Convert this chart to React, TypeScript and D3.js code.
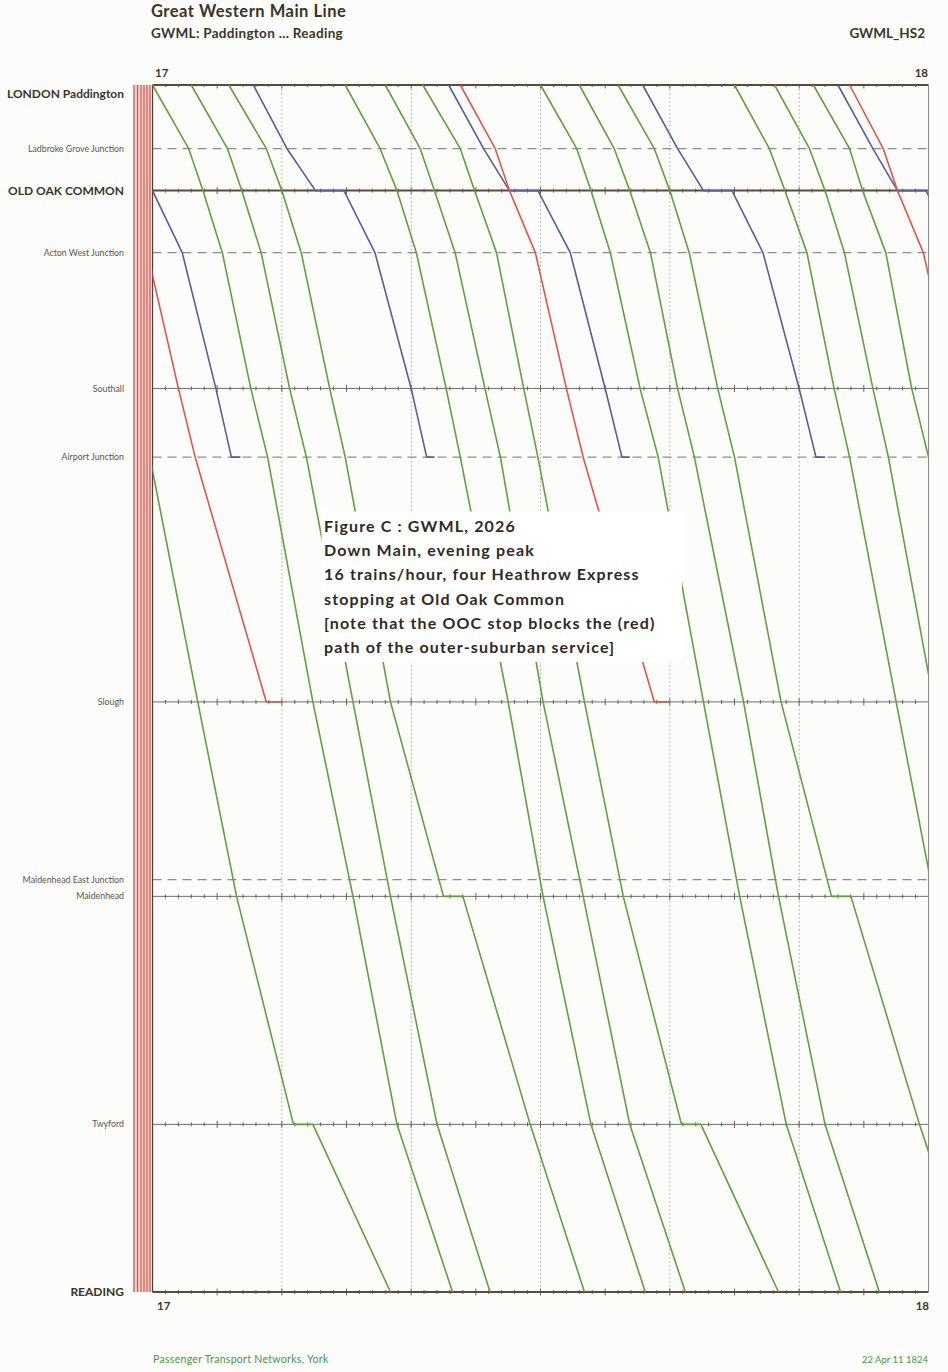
import React from 'react';
import * as d3 from 'd3';

// stations, top to bottom (distance in miles from Paddington)
const stationCodes = ["PAD", "LGJ", "OOC", "AWJ", "STL", "APJ", "SLO", "MEJ", "MAI", "TWY", "RDG"];
const stationLabels = [
  "LONDON Paddington", "Ladbroke Grove Junction", "OLD OAK COMMON", "Acton West Junction",
  "Southall", "Airport Junction", "Slough", "Maidenhead East Junction", "Maidenhead", "Twyford", "READING",
];
const stationMiles = [0, 1.9, 3.15, 5.0, 9.05, 11.1, 18.4, 23.7, 24.2, 31.0, 36.0];
const stationKinds = ["major", "junction", "major", "junction", "station", "junction", "station", "junction", "station", "station", "major"];

// calling patterns (a repeated code = arrive / depart)
const routeFast = ["PAD", "LGJ", "OOC", "AWJ", "STL", "APJ", "SLO", "MAI", "TWY", "RDG"];
const routeMaiStop = ["PAD", "LGJ", "OOC", "AWJ", "STL", "APJ", "SLO", "MAI", "MAI", "TWY", "RDG"];
const routeTwyStop = ["PAD", "LGJ", "OOC", "AWJ", "STL", "APJ", "SLO", "MAI", "TWY", "TWY", "RDG"];
const routeHex = ["PAD", "LGJ", "OOC", "OOC", "AWJ", "STL", "APJ", "APJ"];
const routeOuter = ["PAD", "LGJ", "OOC", "AWJ", "STL", "APJ", "SLO", "SLO"];

// minutes after 17:00
const g1 = [0.0, 2.8, 3.9, 5.4, 7.6, 8.9, 12.4, 15.5, 18.9, 23.2];
const g2 = [3.0, 5.8, 6.9, 8.4, 10.6, 11.9, 15.5, 18.4, 22.0, 26.1];
const g3 = [5.9, 8.8, 10.0, 11.5, 13.7, 14.9, 18.4, 22.5, 24.0, 29.2, 33.4];
const g4 = [14.9, 17.6, 18.9, 20.4, 22.7, 23.8, 27.5, 30.2, 33.9, 38.1];
const g5 = [18.0, 20.7, 21.8, 23.4, 25.7, 26.9, 30.2, 33.3, 36.9, 41.2];
const g6 = [20.9, 23.8, 24.9, 26.6, 28.7, 29.8, 33.4, 36.4, 40.9, 42.4, 48.4];
const b1 = [7.8, 10.4, 12.6, 14.8, 17.2, 20.0, 21.2, 21.8];
const b2 = [22.9, 25.6, 27.6, 29.8, 32.3, 35.0, 36.3, 36.9];
const r1 = [23.8, 26.5, 27.6, 29.6, 32.0, 33.3, 38.8, 40.0];
const g7 = [30.0, 32.8, 33.9, 35.4, 37.7, 39.1, 42.6, 45.4, 49.0, 53.2];
const g8 = [33.0, 35.7, 36.9, 38.5, 40.6, 41.9, 45.7, 48.4, 52.0, 56.2];
const g9 = [36.0, 38.8, 40.0, 41.5, 43.7, 45.0, 48.6, 52.5, 54.0, 59.3, 63.6];
const b3 = [37.9, 40.6, 42.6, 44.8, 47.2, 50.0, 51.3, 52.0];
const g10 = [45.0, 47.7, 48.9, 50.6, 52.7, 53.9, 57.5, 60.4, 64.1, 68.3];
const g11 = [48.1, 50.8, 52.0, 53.5, 55.7, 56.9, 60.4];
const g12 = [51.1, 53.9, 54.9, 56.7, 58.7, 60.0, 63.6];
const b4 = [53.0, 55.7, 57.6, 59.8, 62.3];
const r2 = [53.9, 56.5, 57.6, 59.6, 62.0];
// trains still running from the previous hour
const gPrev = [-0.2, 3.5, 6.5, 10.9, 12.4, 18.4];
const bPrev = [-2.2, 0.0, 2.3, 4.9, 6.1, 6.8];
const rPrev = [-0.4, 2.0, 3.3, 8.8, 10.1];

type Train = { service: string; route: string[]; times: number[] };

const trains: Train[] = [
  { service: "green", route: ["APJ", "SLO", "MAI", "TWY", "TWY", "RDG"], times: gPrev },
  { service: "blue", route: ["OOC", "OOC", "AWJ", "STL", "APJ", "APJ"], times: bPrev },
  { service: "red", route: ["AWJ", "STL", "APJ", "SLO", "SLO"], times: rPrev },
  { service: "green", route: routeFast, times: g1 },
  { service: "green", route: routeFast, times: g2 },
  { service: "green", route: routeMaiStop, times: g3 },
  { service: "blue", route: routeHex, times: b1 },
  { service: "green", route: routeFast, times: g4 },
  { service: "green", route: routeFast, times: g5 },
  { service: "green", route: routeTwyStop, times: g6 },
  { service: "blue", route: routeHex, times: b2 },
  { service: "red", route: routeOuter, times: r1 },
  { service: "green", route: routeFast, times: g7 },
  { service: "green", route: routeFast, times: g8 },
  { service: "green", route: routeMaiStop, times: g9 },
  { service: "blue", route: routeHex, times: b3 },
  { service: "green", route: routeFast, times: g10 },
  { service: "green", route: routeFast.slice(0, 7), times: g11 },
  { service: "green", route: routeFast.slice(0, 7), times: g12 },
  { service: "blue", route: routeHex.slice(0, 5), times: b4 },
  { service: "red", route: routeOuter.slice(0, 5), times: r2 },
];

const colours: Record<string, string> = { green: "#62a03e", blue: "#565f98", red: "#e2554c" };

const boxLines = [
  "Figure C : GWML, 2026",
  "Down Main, evening peak",
  "16 trains/hour, four Heathrow Express",
  "stopping at Old Oak Common",
  "[note that the OOC stop blocks the (red)",
  "path of the outer-suburban service]",
];

const stripeX = [134, 137.5, 141, 144, 147, 150];

const font = "Lato, 'Open Sans', sans-serif";

export default function App() {
  const W = 948, H = 1372;
  const x = d3.scaleLinear().domain([0, 60]).range([152.5, 928.5]);
  const y = d3.scaleLinear().domain([0, 36]).range([85, 1292]);
  const mileOf = (code: string) => stationMiles[stationCodes.indexOf(code)];
  const line = d3.line<[number, number]>().x(d => x(d[0])).y(d => y(d[1]));

  const minutes = d3.range(1, 60);
  const tenMin = [10, 20, 30, 40, 50];
  const x0 = x(0), x1 = x(60);
  const ink = "#3b3428";

  return (
    <svg width={W} height={H} style={{ position: "absolute", left: 0, top: 0, background: "#fcfcfa" }}
      fontFamily={font}>
      <defs>
        <clipPath id="plot">
          <rect x={x0} y={y(0) - 3} width={x1 - x0} height={y(36) - y(0) + 6} />
        </clipPath>
      </defs>

      {/* header */}
      <text x={151} y={17} fontSize={16.5} fontWeight={700} fill={ink} letterSpacing={0.5}>Great Western Main Line</text>
      <text x={151} y={38} fontSize={13.5} fontWeight={700} fill={ink} letterSpacing={0.3}>GWML: Paddington ... Reading</text>
      <text x={925} y={38} fontSize={13.5} fontWeight={700} fill={ink} textAnchor="end">GWML_HS2</text>

      {/* hour labels */}
      <text x={155} y={77} fontSize={11.5} fontWeight={700} fill={ink}>17</text>
      <text x={928} y={77} fontSize={11.5} fontWeight={700} fill={ink} textAnchor="end">18</text>
      <text x={157} y={1310} fontSize={11.5} fontWeight={700} fill={ink}>17</text>
      <text x={929} y={1310} fontSize={11.5} fontWeight={700} fill={ink} textAnchor="end">18</text>

      {/* red stripes on the left */}
      <rect x={133} y={y(0)} width={18} height={y(36) - y(0)} fill="#f1cbc6" />
      {stripeX.map((sx, i) => (
        <line key={i} x1={sx} x2={sx} y1={y(0)} y2={y(36)} stroke="#c9564e" strokeWidth={1.1} />
      ))}

      {/* 10-minute dotted grid */}
      {tenMin.map(m => (
        <line key={m} x1={x(m)} x2={x(m)} y1={y(0)} y2={y(36)} stroke="#9c9c9c" strokeWidth={0.9} strokeDasharray="1.5,2.5" />
      ))}

      {/* station lines */}
      {stationCodes.map((c, i) => {
        const sy = y(stationMiles[i]);
        const kind = stationKinds[i];
        if (kind === "junction") {
          return <line key={c} x1={x0} x2={x1} y1={sy} y2={sy} stroke="#8d8d8d" strokeWidth={1.2} strokeDasharray="9,6" />;
        }
        const major = kind === "major";
        return (
          <g key={c}>
            <line x1={x0} x2={x1} y1={sy} y2={sy} stroke={major ? "#5c4a38" : "#707070"} strokeWidth={major ? 2 : 1} />
            {minutes.map(m => {
              const len = m % 5 === 0 ? 3.5 : 2;
              return (
                <line key={m} x1={x(m)} x2={x(m)} y1={i === 0 ? sy : sy - len} y2={sy + len}
                  stroke="#5c5248" strokeWidth={0.9} />
              );
            })}
          </g>
        );
      })}

      {/* frame */}
      <line x1={x0} x2={x0} y1={y(0)} y2={y(36)} stroke="#4a4038" strokeWidth={1.3} />
      <line x1={x1} x2={x1} y1={y(0)} y2={y(36)} stroke="#8a8a8a" strokeWidth={1} />

      {/* station labels */}
      {stationLabels.map((s, i) => {
        const kind = stationKinds[i];
        const major = kind === "major";
        const sy = y(stationMiles[i]) + (i === 0 ? 9 : 0);
        return (
          <text key={s} x={124} y={sy} dy="0.35em" textAnchor="end"
            fontSize={major ? 12 : 8.8} fontWeight={major ? 700 : 400} fill={major ? ink : "#5a5550"}>
            {s}
          </text>
        );
      })}

      {/* train paths */}
      <g clipPath="url(#plot)" fill="none" strokeLinejoin="round">
        {trains.map((t, i) => {
          const pts: [number, number][] = t.route.map((c, k) => [t.times[k], mileOf(c)]);
          return <path key={i} d={line(pts) || ""} stroke={colours[t.service]} strokeWidth={1.6} />;
        })}
      </g>

      {/* annotation */}
      <rect x={321.5} y={511.5} width={360.5} height={150.5} fill="#ffffff" />
      {boxLines.map((l, i) => (
        <text key={i} x={324} y={532 + i * 24.2} fontSize={16} fontWeight={700} fill="#2f2a1f" letterSpacing={1.15}>
          {l}
        </text>
      ))}

      {/* footer */}
      <text x={153} y={1363} fontSize={10.5} fill="#4d9444" letterSpacing={0.3}>Passenger Transport Networks,  York</text>
      <text x={928} y={1363} fontSize={9.5} fill="#4d9444" textAnchor="end">22 Apr 11   1824</text>
    </svg>
  );
}
